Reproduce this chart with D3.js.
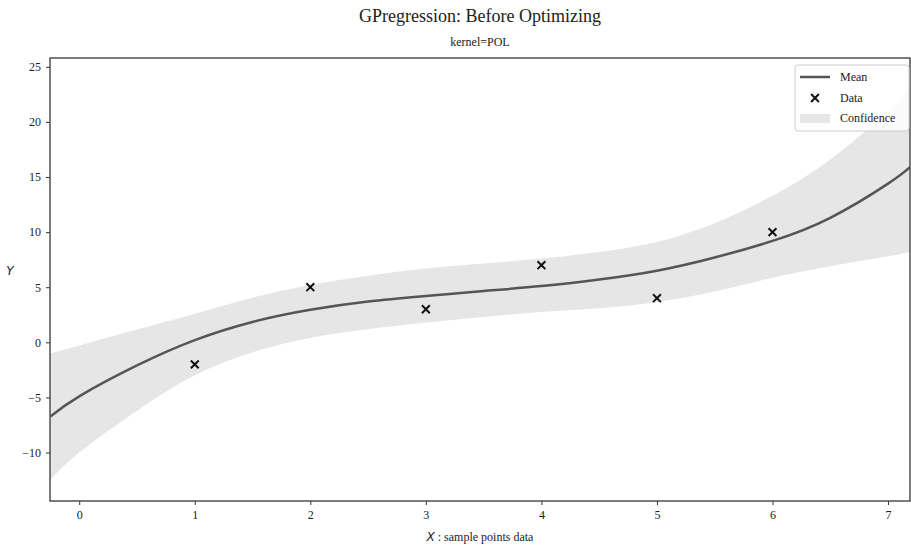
<!DOCTYPE html>
<html>
<head>
<meta charset="utf-8">
<script src="https://cdn.jsdelivr.net/npm/d3@7"></script>
<style>
  body { margin: 0; background: #fff; }
  svg { display: block; }
  text { font-family: "Liberation Serif", "DejaVu Serif", serif; fill: #222; }
</style>
</head>
<body>
<svg id="chart" width="911" height="547"></svg>
<script>
// ---- data ----
const gridX     = [-0.25, 0, 0.5, 1, 1.5, 2, 2.5, 3, 3.5, 4, 4.5, 5, 5.5, 6, 6.5, 7, 7.19];
const meanY     = [-6.73, -4.9, -2.1, 0.2, 1.85, 2.95, 3.7, 4.2, 4.65, 5.1, 5.7, 6.5, 7.7, 9.2, 11.3, 14.4, 15.9];
const upperY    = [-1.0, -0.28, 1.16, 2.6, 4.05, 5.2, 6.05, 6.7, 7.15, 7.6, 8.2, 9.1, 10.8, 13.3, 16.6, 21.0, 23.2];
const lowerY    = [-12.5, -10.0, -6.2, -3.0, -0.9, 0.4, 1.2, 1.8, 2.3, 2.75, 3.1, 3.65, 4.6, 5.85, 6.9, 7.8, 8.2];
const dataX     = [1, 2, 3, 4, 5, 6];
const dataY     = [-2, 5, 3, 7, 4, 10];
const xTicks    = [0, 1, 2, 3, 4, 5, 6, 7];
const yTicks    = [-10, -5, 0, 5, 10, 15, 20, 25];
const legendLabels = ["Mean", "Data", "Confidence"];

const svg = d3.select("#chart");
const m = { left: 50, right: 910, top: 58, bottom: 501 };

const x = d3.scaleLinear().domain([-0.253, 7.19]).range([m.left, m.right]);
const y = d3.scaleLinear().domain([-14.4, 25.8]).range([m.bottom, m.top]);

const pts = gridX.map((gx, i) => ({ x: gx, m: meanY[i], u: upperY[i], l: lowerY[i] }));

svg.append("defs").append("clipPath").attr("id", "clip")
  .append("rect").attr("x", m.left).attr("y", m.top)
  .attr("width", m.right - m.left).attr("height", m.bottom - m.top);

const g = svg.append("g").attr("clip-path", "url(#clip)");

// confidence band
g.append("path").datum(pts)
  .attr("d", d3.area().x(d => x(d.x)).y0(d => y(d.l)).y1(d => y(d.u)).curve(d3.curveNatural))
  .attr("fill", "#e6e6e6");

// mean line
g.append("path").datum(pts)
  .attr("d", d3.line().x(d => x(d.x)).y(d => y(d.m)).curve(d3.curveNatural))
  .attr("fill", "none").attr("stroke", "#555").attr("stroke-width", 2.5);

// data markers (x)
const cross = d3.symbol().type(d3.symbolTimes).size(42);
g.selectAll(".pt").data(dataX.map((dx, i) => [dx, dataY[i]])).join("path")
  .attr("class", "pt")
  .attr("d", cross)
  .attr("transform", d => `translate(${x(d[0])},${y(d[1])})`)
  .attr("fill", "none").attr("stroke", "#111").attr("stroke-width", 2);

// axes
const fmt = v => (v < 0 ? "\u2212" + Math.abs(v) : String(v));
const xAxis = svg.append("g").attr("transform", `translate(0,${m.bottom})`)
  .call(d3.axisBottom(x).tickValues(xTicks).tickFormat(fmt).tickSize(4).tickPadding(5));
const yAxis = svg.append("g").attr("transform", `translate(${m.left},0)`)
  .call(d3.axisLeft(y).tickValues(yTicks).tickFormat(fmt).tickSize(4).tickPadding(5));
[xAxis, yAxis].forEach(a => {
  a.select(".domain").remove();
  a.selectAll("line").attr("stroke", "#333").attr("stroke-width", 1);
  a.selectAll("text").style("font-size", "12px").attr("fill", "#333")
    .style("font-family", "'Liberation Serif', serif");
});

// frame
svg.append("rect").attr("x", m.left).attr("y", m.top)
  .attr("width", m.right - m.left).attr("height", m.bottom - m.top)
  .attr("fill", "none").attr("stroke", "#444").attr("stroke-width", 1.4);

// titles
svg.append("text").attr("x", (m.left + m.right) / 2).attr("y", 22)
  .attr("text-anchor", "middle").style("font-size", "18px")
  .text("GPregression: Before Optimizing");
svg.append("text").attr("x", (m.left + m.right) / 2).attr("y", 46)
  .attr("text-anchor", "middle").style("font-size", "12px")
  .text("kernel=POL");

// axis labels
const xl = svg.append("text").attr("x", (m.left + m.right) / 2).attr("y", 541)
  .attr("text-anchor", "middle").style("font-size", "12px");
xl.append("tspan").style("font-style", "italic").style("font-family", "'DejaVu Sans', sans-serif").text("X");
xl.append("tspan").text(" : sample points data");
svg.append("text").attr("x", 10).attr("y", 275)
  .attr("text-anchor", "middle").style("font-size", "12px")
  .style("font-style", "italic").style("font-family", "'DejaVu Sans', sans-serif")
  .text("Y");

// legend
const lg = svg.append("g");
lg.append("rect").attr("x", 795).attr("y", 65).attr("width", 114).attr("height", 66)
  .attr("rx", 3).attr("fill", "#fff").attr("fill-opacity", 0.8)
  .attr("stroke", "#ccc").attr("stroke-width", 1);
lg.append("line").attr("x1", 800).attr("x2", 830).attr("y1", 77).attr("y2", 77)
  .attr("stroke", "#555").attr("stroke-width", 2.5);
lg.append("path").attr("d", cross).attr("transform", "translate(815,98)")
  .attr("fill", "none").attr("stroke", "#111").attr("stroke-width", 2);
lg.append("rect").attr("x", 800).attr("y", 114).attr("width", 30).attr("height", 9)
  .attr("fill", "#e6e6e6");
legendLabels.forEach((t, i) => {
  lg.append("text").attr("x", 840).attr("y", 81 + i * 20.5)
    .style("font-size", "12px").text(t);
});
</script>
</body>
</html>
